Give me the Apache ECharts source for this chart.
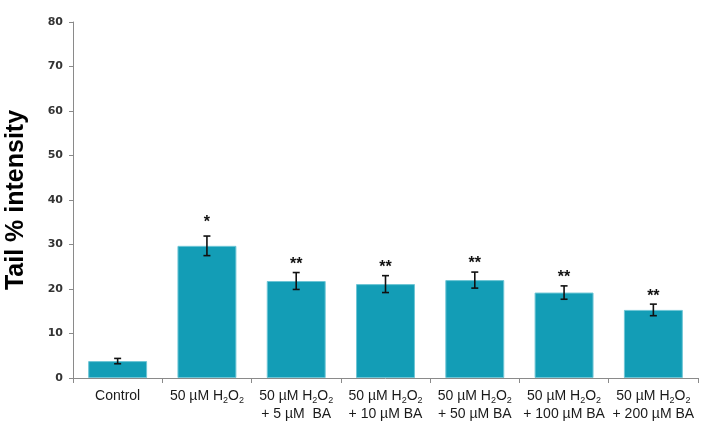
<!DOCTYPE html>
<html>
<head>
<meta charset="utf-8">
<script src="https://cdn.jsdelivr.net/npm/echarts@6/dist/echarts.min.js"></script>
<style>
  html, body { margin: 0; padding: 0; background: #fff; }
  #chart { width: 708px; height: 436px; }
</style>
</head>
<body>
<div id="chart"></div>
<script>
const categories = [
  '{n|Control}',
  '{n|50 µM H}{s|2}{n|O}{s|2}',
  '{n|50 µM H}{s|2}{n|O}{s|2}\n{n|+ 5 µM  BA}',
  '{n|50 µM H}{s|2}{n|O}{s|2}\n{n|+ 10 µM BA}',
  '{n|50 µM H}{s|2}{n|O}{s|2}\n{n|+ 50 µM BA}',
  '{n|50 µM H}{s|2}{n|O}{s|2}\n{n|+ 100 µM BA}',
  '{n|50 µM H}{s|2}{n|O}{s|2}\n{n|+ 200 µM BA}'
]
const means = [3.8, 29.7, 21.8, 21.1, 22.0, 19.2, 15.3]
const errors = [0.6, 2.2, 1.9, 1.9, 1.8, 1.5, 1.3]
const marks = ['', '*', '**', '**', '**', '**', '**']

const chart = echarts.init(document.getElementById('chart'))

const barColor = '#139db6'

const option = {
  animation: false,
  grid: { left: 73, right: 10, top: 22, bottom: 58, outerBoundsMode: 'none' },
  xAxis: {
    type: 'category',
    data: categories,
    axisLine: { lineStyle: { color: '#8a8a8a', width: 1 } },
    axisTick: { show: true, length: 5, lineStyle: { color: '#8a8a8a' } },
    axisLabel: {
      interval: 0,
      margin: 9,
      lineHeight: 18,
      rich: {
        n: { fontFamily: 'Liberation Sans', fontSize: 14, color: '#1a1a1a', lineHeight: 18 },
        s: { fontFamily: 'Liberation Sans', fontSize: 9, color: '#1a1a1a', verticalAlign: 'bottom', padding: [7, 0, 0, 0], lineHeight: 18 }
      }
    }
  },
  yAxis: {
    type: 'value',
    min: 0,
    max: 80,
    interval: 10,
    name: 'Tail % intensity',
    nameLocation: 'middle',
    nameGap: 44,
    nameTextStyle: {
      fontFamily: 'Liberation Sans',
      fontSize: 25,
      fontWeight: 'bold',
      color: '#000'
    },
    axisLine: { show: true, lineStyle: { color: '#8a8a8a', width: 1 } },
    axisTick: { show: true, length: 4, lineStyle: { color: '#8a8a8a' } },
    splitLine: { show: false },
    axisLabel: {
      margin: 10,
      fontFamily: 'DejaVu Sans',
      fontSize: 11,
      fontWeight: 'bold',
      color: '#333'
    }
  },
  series: [
    {
      type: 'bar',
      data: means,
      barCategoryGap: '34%',
      itemStyle: { color: barColor, borderColor: '#6fc6d6', borderWidth: 1 }
    },
    {
      type: 'custom',
      data: means.map((m, i) => [i, m - errors[i], m + errors[i], marks[i]]),
      z: 5,
      renderItem: function (params, api) {
        const lo = api.coord([api.value(0), api.value(1)])
        const hi = api.coord([api.value(0), api.value(2)])
        const x = hi[0]
        const cap = 3.5
        const style = { stroke: '#111', lineWidth: 1.6 }
        const children = [
          { type: 'line', shape: { x1: x, y1: hi[1], x2: x, y2: lo[1] }, style: style },
          { type: 'line', shape: { x1: x - cap, y1: hi[1], x2: x + cap, y2: hi[1] }, style: style },
          { type: 'line', shape: { x1: x - cap, y1: lo[1], x2: x + cap, y2: lo[1] }, style: style }
        ]
        const mark = marks[params.dataIndex]
        if (mark) {
          children.push({
            type: 'text',
            style: {
              text: mark,
              x: x,
              y: hi[1] - (mark === '*' ? 5 : 0),
              align: 'center',
              verticalAlign: 'bottom',
              fontFamily: 'Liberation Sans',
              fontSize: 16,
              fontWeight: 'bold',
              fill: '#111'
            }
          })
        }
        return { type: 'group', children: children }
      }
    }
  ]
}

chart.setOption(option)
</script>
</body>
</html>
